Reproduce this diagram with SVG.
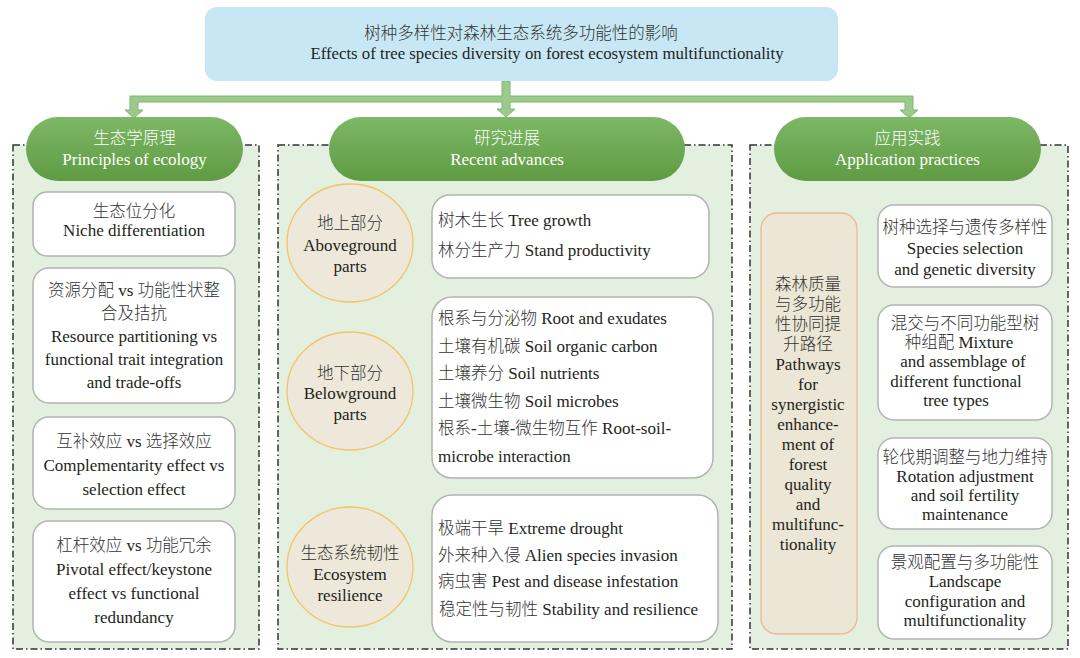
<svg xmlns="http://www.w3.org/2000/svg" width="1080" height="658" viewBox="0 0 1080 658">
<defs>
<linearGradient id="pillGrad" x1="0" y1="0" x2="0" y2="1">
<stop offset="0" stop-color="#7db866"/>
<stop offset="1" stop-color="#5e9b42"/>
</linearGradient>
<polygon id="chev" points="0,-7.5 8,-7.5 15,0 8,7.5 0,7.5 7,0"/>
</defs>
<style>
text{font-family:"Liberation Serif","Noto Sans CJK SC",serif;font-size:17px;fill:#231f20}
.zh{font-size:16.5px;font-weight:300;fill:#333333}
.c{text-anchor:middle}
.w,.w .zh,.w.zh{fill:#ffffff}
.panel{fill:#e3efdf;stroke:#333333;stroke-width:1.5;stroke-dasharray:7,3,1.5,3}
.pill{fill:url(#pillGrad)}
.box{fill:#ffffff;stroke:#b3b3b3;stroke-width:1.5}
.ell{fill:#ede8d9;stroke:#f2c46a;stroke-width:1.3}
.tall{fill:#ebe6d5;stroke:#f3b595;stroke-width:1.3}
.chev{fill:#5fa33a}
.conn{fill:#9cc98c;stroke:#7fb46f;stroke-width:1}
</style>
<rect width="1080" height="658" fill="#ffffff"/>

<g id="connectors">
<path class="conn" d="M502,81 L502,96 L130,96 L130,110 L125,110 L134,118 L143,110 L138,110 L138,102 L502,102 L502,109 L497,109 L506,117 L515,109 L510,109 L510,102 L905,102 L905,110 L900,110 L909,118 L918,110 L913,110 L913,96 L510,96 L510,81 Z"/>
<use href="#chev" class="chev" x="413" y="238"/>
<use href="#chev" class="chev" x="416" y="389"/>
<use href="#chev" class="chev" x="415" y="567"/>
<use href="#chev" class="chev" x="863" y="250"/>
<use href="#chev" class="chev" x="863" y="368"/>
<use href="#chev" class="chev" x="863" y="483"/>
<use href="#chev" class="chev" x="863" y="590"/>
</g>

<g id="title">
<rect x="205" y="7" width="633" height="74" rx="12" fill="#c8e7f5"/>
<text class="c zh" x="521" y="39">树种多样性对森林生态系统多功能性的影响</text>
<text class="c" x="547" y="59" style="font-size:16.8px">Effects of tree species diversity on forest ecosystem multifunctionality</text>
</g>

<g id="panel-left"><rect class="panel" x="13" y="145" width="246" height="504"/></g>
<g id="panel-middle"><rect class="panel" x="278" y="145" width="454" height="504"/></g>
<g id="panel-right"><rect class="panel" x="750" y="145" width="318" height="504"/></g>

<g id="head-principles">
<rect class="pill" x="26" y="117" width="217" height="64" rx="32"/>
<text class="c w zh" x="134.5" y="144">生态学原理</text>
<text class="c w" x="134.5" y="165">Principles of ecology</text>
</g>
<g id="head-advances">
<rect class="pill" x="329" y="117" width="356" height="64" rx="32"/>
<text class="c w zh" x="507" y="144">研究进展</text>
<text class="c w" x="507" y="165">Recent advances</text>
</g>
<g id="head-practices">
<rect class="pill" x="774" y="117" width="267" height="64" rx="32"/>
<text class="c w zh" x="907.5" y="144">应用实践</text>
<text class="c w" x="907.5" y="165">Application practices</text>
</g>

<g id="niche">
<rect class="box" x="33" y="192" width="202" height="64" rx="14"/>
<text class="c zh" x="134" y="217">生态位分化</text>
<text class="c" x="134" y="236">Niche differentiation</text>
</g>
<g id="resource">
<rect class="box" x="33" y="268" width="202" height="135" rx="16"/>
<text class="c" x="134" y="296"><tspan class="zh">资源分配</tspan> vs <tspan class="zh">功能性状整</tspan></text>
<text class="c zh" x="134" y="319">合及拮抗</text>
<text class="c" x="134" y="342">Resource partitioning vs</text>
<text class="c" x="134" y="365">functional trait integration</text>
<text class="c" x="134" y="388">and trade-offs</text>
</g>
<g id="complementarity">
<rect class="box" x="33" y="417" width="202" height="92" rx="16"/>
<text class="c" x="134" y="447"><tspan class="zh">互补效应</tspan> vs <tspan class="zh">选择效应</tspan></text>
<text class="c" x="134" y="471">Complementarity effect vs</text>
<text class="c" x="134" y="495">selection effect</text>
</g>
<g id="pivotal">
<rect class="box" x="33" y="521" width="202" height="121" rx="16"/>
<text class="c" x="134" y="551"><tspan class="zh">杠杆效应</tspan> vs <tspan class="zh">功能冗余</tspan></text>
<text class="c" x="134" y="575">Pivotal effect/keystone</text>
<text class="c" x="134" y="599">effect vs functional</text>
<text class="c" x="134" y="623">redundancy</text>
</g>

<g id="aboveground">
<ellipse class="ell" cx="350" cy="243" rx="63" ry="59"/>
<text class="c zh" x="350" y="229">地上部分</text>
<text class="c" x="350" y="251">Aboveground</text>
<text class="c" x="350" y="272">parts</text>
</g>
<g id="aboveground-items">
<rect class="box" x="432" y="195" width="277" height="83" rx="18"/>
<text x="438" y="226"><tspan class="zh">树木生长</tspan> Tree growth</text>
<text x="438" y="256"><tspan class="zh">林分生产力</tspan> Stand productivity</text>
</g>
<g id="belowground">
<ellipse class="ell" cx="350" cy="391" rx="63" ry="59"/>
<text class="c zh" x="350" y="379">地下部分</text>
<text class="c" x="350" y="399">Belowground</text>
<text class="c" x="350" y="420">parts</text>
</g>
<g id="belowground-items">
<rect class="box" x="432" y="297" width="281" height="181" rx="20"/>
<text x="438" y="324"><tspan class="zh">根系与分泌物</tspan> Root and exudates</text>
<text x="438" y="352"><tspan class="zh">土壤有机碳</tspan> Soil organic carbon</text>
<text x="438" y="379"><tspan class="zh">土壤养分</tspan> Soil nutrients</text>
<text x="438" y="407"><tspan class="zh">土壤微生物</tspan> Soil microbes</text>
<text x="438" y="434"><tspan class="zh">根系</tspan>-<tspan class="zh">土壤</tspan>-<tspan class="zh">微生物互作</tspan> Root-soil-</text>
<text x="438" y="462">microbe interaction</text>
</g>
<g id="resilience">
<ellipse class="ell" cx="350" cy="567" rx="63" ry="60"/>
<text class="c zh" x="350" y="559">生态系统韧性</text>
<text class="c" x="350" y="580">Ecosystem</text>
<text class="c" x="350" y="601">resilience</text>
</g>
<g id="resilience-items">
<rect class="box" x="432" y="495" width="286" height="147" rx="20"/>
<text x="438" y="534"><tspan class="zh">极端干旱</tspan> Extreme drought</text>
<text x="438" y="561"><tspan class="zh">外来种入侵</tspan> Alien species invasion</text>
<text x="438" y="587"><tspan class="zh">病虫害</tspan> Pest and disease infestation</text>
<text x="439" y="615"><tspan class="zh">稳定性与韧性</tspan> Stability and resilience</text>
</g>

<g id="pathways">
<rect class="tall" x="761" y="213" width="96" height="421" rx="16"/>
<text class="c zh" x="808" y="290">森林质量</text>
<text class="c zh" x="808" y="310">与多功能</text>
<text class="c zh" x="808" y="330">性协同提</text>
<text class="c zh" x="808" y="350">升路径</text>
<text class="c" x="808" y="370">Pathways</text>
<text class="c" x="808" y="390">for</text>
<text class="c" x="808" y="410">synergistic</text>
<text class="c" x="808" y="430">enhance-</text>
<text class="c" x="808" y="450">ment of</text>
<text class="c" x="808" y="470">forest</text>
<text class="c" x="808" y="490">quality</text>
<text class="c" x="808" y="510">and</text>
<text class="c" x="808" y="530">multifunc-</text>
<text class="c" x="808" y="550">tionality</text>
</g>
<g id="species-selection">
<rect class="box" x="878" y="205" width="174" height="82" rx="16"/>
<text class="c zh" x="965" y="233">树种选择与遗传多样性</text>
<text class="c" x="965" y="254">Species selection</text>
<text class="c" x="965" y="275">and genetic diversity</text>
</g>
<g id="mixture">
<rect class="box" x="878" y="305" width="174" height="115" rx="16"/>
<text class="c zh" x="965" y="329">混交与不同功能型树</text>
<text class="c" x="959" y="348"><tspan class="zh">种组配</tspan> Mixture</text>
<text class="c" x="963" y="367">and assemblage of</text>
<text class="c" x="956" y="387">different functional</text>
<text class="c" x="956" y="406">tree types</text>
</g>
<g id="rotation">
<rect class="box" x="878" y="438" width="174" height="91" rx="16"/>
<text class="c zh" x="965" y="463">轮伐期调整与地力维持</text>
<text class="c" x="965" y="482">Rotation adjustment</text>
<text class="c" x="965" y="501">and soil fertility</text>
<text class="c" x="965" y="520">maintenance</text>
</g>
<g id="landscape">
<rect class="box" x="878" y="546" width="174" height="93" rx="16"/>
<text class="c zh" x="965" y="568">景观配置与多功能性</text>
<text class="c" x="965" y="587">Landscape</text>
<text class="c" x="965" y="607">configuration and</text>
<text class="c" x="965" y="626">multifunctionality</text>
</g>
</svg>
